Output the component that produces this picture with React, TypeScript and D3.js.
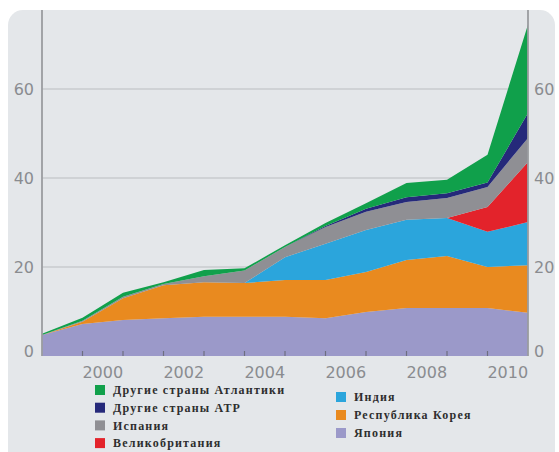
import React from "react";
import * as d3 from "d3";

// x positions of data points (year boundaries), labels sit mid-year
const years = [1999, 2000, 2001, 2002, 2003, 2004, 2005, 2006, 2007, 2008, 2009, 2010, 2011];
const yearLabels = [2000, 2002, 2004, 2006, 2008, 2010];
const yTicks = [0, 20, 40, 60];

// series values (stack order bottom -> top)
const japan = [4.7, 7.2, 8.1, 8.5, 8.8, 8.8, 8.8, 8.5, 9.9, 10.8, 10.8, 10.8, 9.7];
const korea = [0, 0.5, 4.9, 7.4, 7.8, 7.6, 8.3, 8.6, 9.0, 10.8, 11.7, 9.2, 10.7];
const india = [0, 0, 0, 0, 0, 0, 5.1, 8.1, 9.4, 9.0, 8.5, 7.9, 9.7];
const uk = [0, 0, 0, 0, 0, 0, 0, 0, 0, 0, 0, 5.6, 13.5];
const spain = [0, 0.2, 0.3, 0.3, 1.3, 2.8, 2.3, 3.8, 4.1, 4.0, 4.5, 4.5, 5.4];
const otherAPR = [0, 0, 0, 0, 0, 0, 0, 0.2, 0.7, 1.1, 1.1, 1.0, 5.6];
const otherAtl = [0.3, 0.7, 0.9, 0.4, 1.4, 0.5, 0.4, 0.7, 1.2, 3.2, 3.0, 6.2, 19.9];

const keys = ["japan", "korea", "india", "uk", "spain", "otherAPR", "otherAtl"];
const names: Record<string, string> = {
  otherAtl: "Другие страны Атлантики",
  otherAPR: "Другие страны АТР",
  spain: "Испания",
  uk: "Великобритания",
  india: "Индия",
  korea: "Республика Корея",
  japan: "Япония",
};
const colors: Record<string, string> = {
  japan: "#9b99c9",
  korea: "#e98a1f",
  india: "#2ba5dc",
  uk: "#e3232b",
  spain: "#8f8f94",
  otherAPR: "#25297a",
  otherAtl: "#10a04b",
};
const legendCol1 = ["otherAtl", "otherAPR", "spain", "uk"];
const legendCol2 = ["india", "korea", "japan"];

const valuesByKey: Record<string, number[]> = { japan, korea, india, uk, spain, otherAPR, otherAtl };

export default function App() {
  const W = 559, H = 452;
  const x = d3.scaleLinear().domain([1999, 2011]).range([42, 528]);
  const y = d3.scaleLinear().domain([0, 60]).range([356, 89]);
  const top = 10;

  const table = years.map((yr, i) => {
    const row: any = { year: yr };
    keys.forEach((k) => (row[k] = valuesByKey[k][i]));
    return row;
  });
  const stacked = d3.stack<any>().keys(keys)(table);
  const area = d3
    .area<any>()
    .x((d) => x(d.data.year))
    .y0((d) => y(d[0]))
    .y1((d) => y(d[1]));

  const labelFont = "'DejaVu Sans', sans-serif";
  const legendFont = "'Liberation Serif', 'DejaVu Serif', serif";

  return (
    <svg width={W} height={H} style={{ position: "absolute", left: 0, top: 0 }}>
      <rect x={0} y={0} width={W} height={H} fill="#ffffff" />
      <rect x={8} y={10} width={547} height={470} rx={15} fill="#e4e7ea" />
      {yTicks.filter((t) => t > 0).map((t) => (
        <line key={t} x1={x(1999)} x2={x(2011)} y1={y(t)} y2={y(t)} stroke="#c9cbce" strokeWidth={1.5} />
      ))}
      {stacked.map((s) => (
        <path key={s.key} d={area(s) || ""} fill={colors[s.key]} />
      ))}
      <line x1={x(1999)} x2={x(1999)} y1={top} y2={y(0)} stroke="#9a9ca0" strokeWidth={1.8} />
      <line x1={x(2011)} x2={x(2011)} y1={top} y2={y(0)} stroke="#9a9ca0" strokeWidth={1.8} />
      {years.slice(1, -1).map((yr) => (
        <line key={yr} x1={x(yr)} x2={x(yr)} y1={y(0)} y2={y(0) - 5} stroke="#6e6e80" strokeWidth={1.2} />
      ))}
      {yTicks.map((t) => (
        <g key={t}>
          <text x={34} y={y(t) - (t === 0 ? 5 : 0)} dy="0.36em" textAnchor="end" fontFamily={labelFont} fontSize={16} fill="#8a8c90">
            {t}
          </text>
          <text x={534} y={y(t) - (t === 0 ? 5 : 0)} dy="0.36em" textAnchor="start" fontFamily={labelFont} fontSize={16} fill="#8a8c90">
            {t}
          </text>
        </g>
      ))}
      {yearLabels.map((yr) => (
        <text key={yr} x={x(yr + 0.5)} y={372} dy="0.36em" textAnchor="middle" fontFamily={labelFont} fontSize={16} fill="#8a8c90">
          {yr}
        </text>
      ))}
      {legendCol1.map((k, i) => (
        <g key={k} transform={`translate(95, ${390 + i * 17.7})`}>
          <rect x={0} y={-5} width={10} height={10} fill={colors[k]} />
          <text x={18} y={0} dy="0.35em" fontFamily={legendFont} fontWeight="bold" fontSize={12} letterSpacing={1.2} fill="#2e2e2e">
            {names[k]}
          </text>
        </g>
      ))}
      {legendCol2.map((k, i) => (
        <g key={k} transform={`translate(336, ${397 + i * 18})`}>
          <rect x={0} y={-5} width={10} height={10} fill={colors[k]} />
          <text x={18} y={0} dy="0.35em" fontFamily={legendFont} fontWeight="bold" fontSize={12} letterSpacing={1.2} fill="#2e2e2e">
            {names[k]}
          </text>
        </g>
      ))}
    </svg>
  );
}
